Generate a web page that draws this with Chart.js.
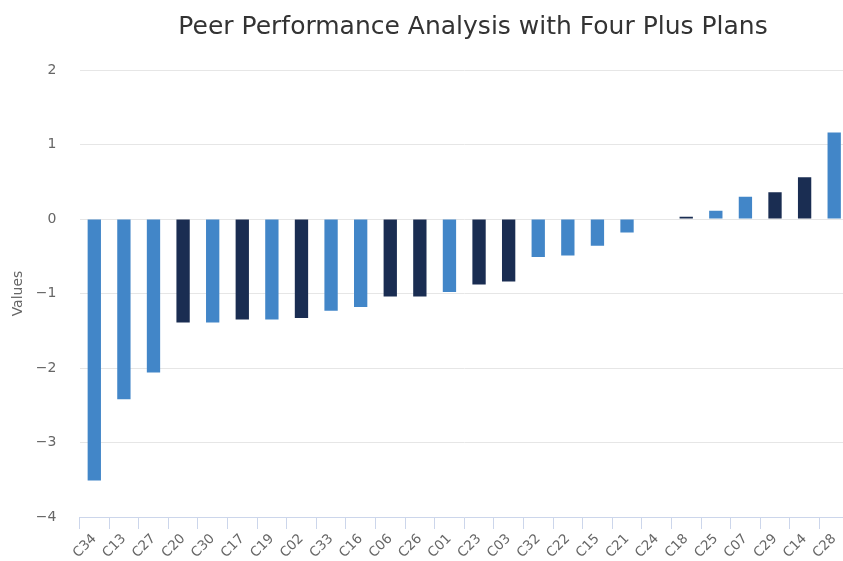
<!DOCTYPE html>
<html>
<head>
<meta charset="utf-8">
<script src="https://cdn.jsdelivr.net/npm/chart.js@4/dist/chart.umd.min.js"></script>
<style>
  html, body { margin: 0; padding: 0; overflow: hidden; background: #fff; }
  #wrap { position: relative; width: 849px; height: 561px; overflow: hidden; }
</style>
</head>
<body>
<div id="wrap"><canvas id="c" width="849" height="561"></canvas></div>
<script>
const categories = ["C34","C13","C27","C20","C30","C17","C19","C02","C33","C16","C06","C26","C01","C23","C03","C32","C22","C15","C21","C24","C18","C25","C07","C29","C14","C28"];
const values = [-3.51,-2.42,-2.06,-1.39,-1.39,-1.35,-1.35,-1.33,-1.23,-1.18,-1.04,-1.04,-0.98,-0.88,-0.84,-0.51,-0.49,-0.36,-0.18,0,0.03,0.11,0.30,0.36,0.56,1.16];
// 1 = Four Plus Plans peer (dark), 0 = other peer (light)
const fourPlus = [0,0,0,1,0,1,0,1,0,0,1,1,0,1,1,0,0,0,0,0,1,0,0,1,1,0];
const yTicks = [-4,-3,-2,-1,0,1,2];

const LIGHT = '#4286c8';
const DARK = '#1a2d52';
const FONT = "'DejaVu Sans', sans-serif";

// centre the title where the reference has it
const titleShift = {
  id: 'titleShift',
  afterLayout(chart) {
    const t = chart.titleBlock;
    if (t) { const w = t.right - t.left; t.left = 473 - w / 2; t.right = 473 + w / 2; }
  }
};

new Chart(document.getElementById('c'), {
  type: 'bar',
  data: {
    labels: categories,
    datasets: [{
      label: 'Values',
      data: values,
      backgroundColor: fourPlus.map(f => f ? DARK : LIGHT),
      borderWidth: 0,
      categoryPercentage: 1,
      barPercentage: 0.45
    }]
  },
  plugins: [titleShift],
  options: {
    responsive: false,
    animation: false,
    layout: { padding: { left: 6, right: 0, top: 6, bottom: 0 } },
    plugins: {
      legend: { display: false },
      tooltip: { enabled: false },
      title: {
        display: true,
        text: 'Peer Performance Analysis with Four Plus Plans',
        color: '#333333',
        font: { family: FONT, size: 25, weight: 'normal' },
        padding: { top: 6, bottom: 28 }
      }
    },
    scales: {
      x: {
        afterFit: s => { s.paddingLeft = 0; s.paddingRight = 0; s.height = 44; },
        grid: { display: true, drawOnChartArea: false, drawTicks: true, tickLength: 12, color: '#ccd6eb', offset: true },
        border: { display: true, color: '#ccd6eb' },
        ticks: {
          color: '#666666',
          font: { family: FONT, size: 13.5 },
          maxRotation: 45, minRotation: 45,
          autoSkip: false,
          padding: 2
        }
      },
      y: {
        min: yTicks[0], max: yTicks[yTicks.length - 1],
        afterBuildTicks: axis => { axis.ticks = yTicks.map(v => ({ value: v })); },
        afterFit: s => { s.width = 73.5; },
        grid: { color: '#e6e6e6', drawTicks: false },
        border: { display: false },
        ticks: {
          color: '#666666',
          font: { family: FONT, size: 14 },
          padding: 23,
          callback: v => String(v).replace('-', '\u2212')
        },
        title: {
          display: true,
          text: 'Values',
          color: '#666666',
          font: { family: FONT, size: 14 },
          padding: { top: 4, bottom: 8 }
        }
      }
    }
  }
});
</script>
</body>
</html>
